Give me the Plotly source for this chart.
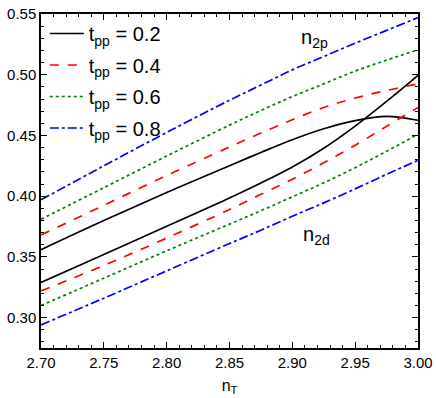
import plotly.graph_objects as go

# filling n_T values
n_T = [2.70, 2.75, 2.80, 2.85, 2.875, 2.90, 2.925, 2.95, 2.975, 3.00]

# n_2p curves (upper family)
n2p_02 = [0.356, 0.380, 0.403, 0.425, 0.436, 0.4465, 0.4555, 0.4622, 0.4657, 0.4625]
n2p_04 = [0.368, 0.3925, 0.417, 0.4405, 0.452, 0.4630, 0.4730, 0.4808, 0.4870, 0.4925]
n2p_06 = [0.381, 0.407, 0.433, 0.4585, 0.4705, 0.482, 0.4925, 0.503, 0.512, 0.5205]
n2p_08 = [0.397, 0.425, 0.4525, 0.479, 0.4915, 0.504, 0.515, 0.526, 0.5365, 0.547]

# n_2d curves (lower family)
n2d_02 = [0.329, 0.352, 0.3752, 0.3985, 0.4108, 0.4240, 0.4395, 0.4577, 0.478, 0.4995]
n2d_04 = [0.322, 0.343, 0.3655, 0.389, 0.4015, 0.414, 0.4275, 0.442, 0.4575, 0.473]
n2d_06 = [0.310, 0.3325, 0.355, 0.377, 0.388, 0.3995, 0.411, 0.4235, 0.437, 0.451]
n2d_08 = [0.294, 0.316, 0.3385, 0.361, 0.372, 0.3835, 0.3945, 0.406, 0.418, 0.4295]

t_pp = ["0.2", "0.4", "0.6", "0.8"]
colors = ["black", "red", "green", "blue"]
dashes = ["solid", "dash", "dot", "dashdot"]

FONT = "Liberation Sans, Arial, Helvetica, sans-serif"

fig = go.Figure()

upper = [n2p_02, n2p_04, n2p_06, n2p_08]
lower = [n2d_02, n2d_04, n2d_06, n2d_08]

for i in range(4):
    fig.add_trace(go.Scatter(
        x=n_T, y=upper[i], mode="lines", line_shape="spline",
        line=dict(color=colors[i], dash=dashes[i], width=1.7),
        name="t<sub>pp</sub> = " + t_pp[i], legendgroup=t_pp[i]))
    fig.add_trace(go.Scatter(
        x=n_T, y=lower[i], mode="lines", line_shape="spline",
        line=dict(color=colors[i], dash=dashes[i], width=1.7),
        showlegend=False, legendgroup=t_pp[i]))

fig.add_annotation(x=2.918, y=0.530, text="n<sub>2p</sub>", showarrow=False,
                   font=dict(size=20, color="black", family=FONT))
fig.add_annotation(x=2.919, y=0.368, text="n<sub>2d</sub>", showarrow=False,
                   font=dict(size=20, color="black", family=FONT))

axis_style = dict(
    showline=True, linecolor="black", linewidth=1.5, mirror="ticks",
    ticks="inside", ticklen=6, tickwidth=1.2, tickcolor="black",
    showgrid=False, zeroline=False, tickformat=".2f", automargin=False,
    tickfont=dict(size=15, color="black", family=FONT),
    minor=dict(dtick=0.01, ticks="inside", ticklen=3.5, tickcolor="black", tickwidth=1),
)

fig.update_xaxes(range=[2.70, 3.00], dtick=0.05,
                 title=dict(text="n<sub>T</sub>", font=dict(size=16, color="black", family=FONT),
                            standoff=10),
                 **axis_style)
fig.update_yaxes(range=[0.275, 0.55], dtick=0.05, **axis_style)

fig.update_layout(
    width=436, height=398,
    margin=dict(l=41, r=18, t=14, b=50),
    plot_bgcolor="white", paper_bgcolor="white",
    font=dict(family=FONT, color="black"),
    legend=dict(x=0.01, y=1.0, xanchor="left", yanchor="top",
                bgcolor="rgba(0,0,0,0)", font=dict(size=20, family=FONT),
                tracegroupgap=2.5, itemwidth=34),
)

# page body margin would push the figure 8px down/right
fig.write_html("out.html", config={"displayModeBar": False},
               post_script="document.body.style.margin='0';")
